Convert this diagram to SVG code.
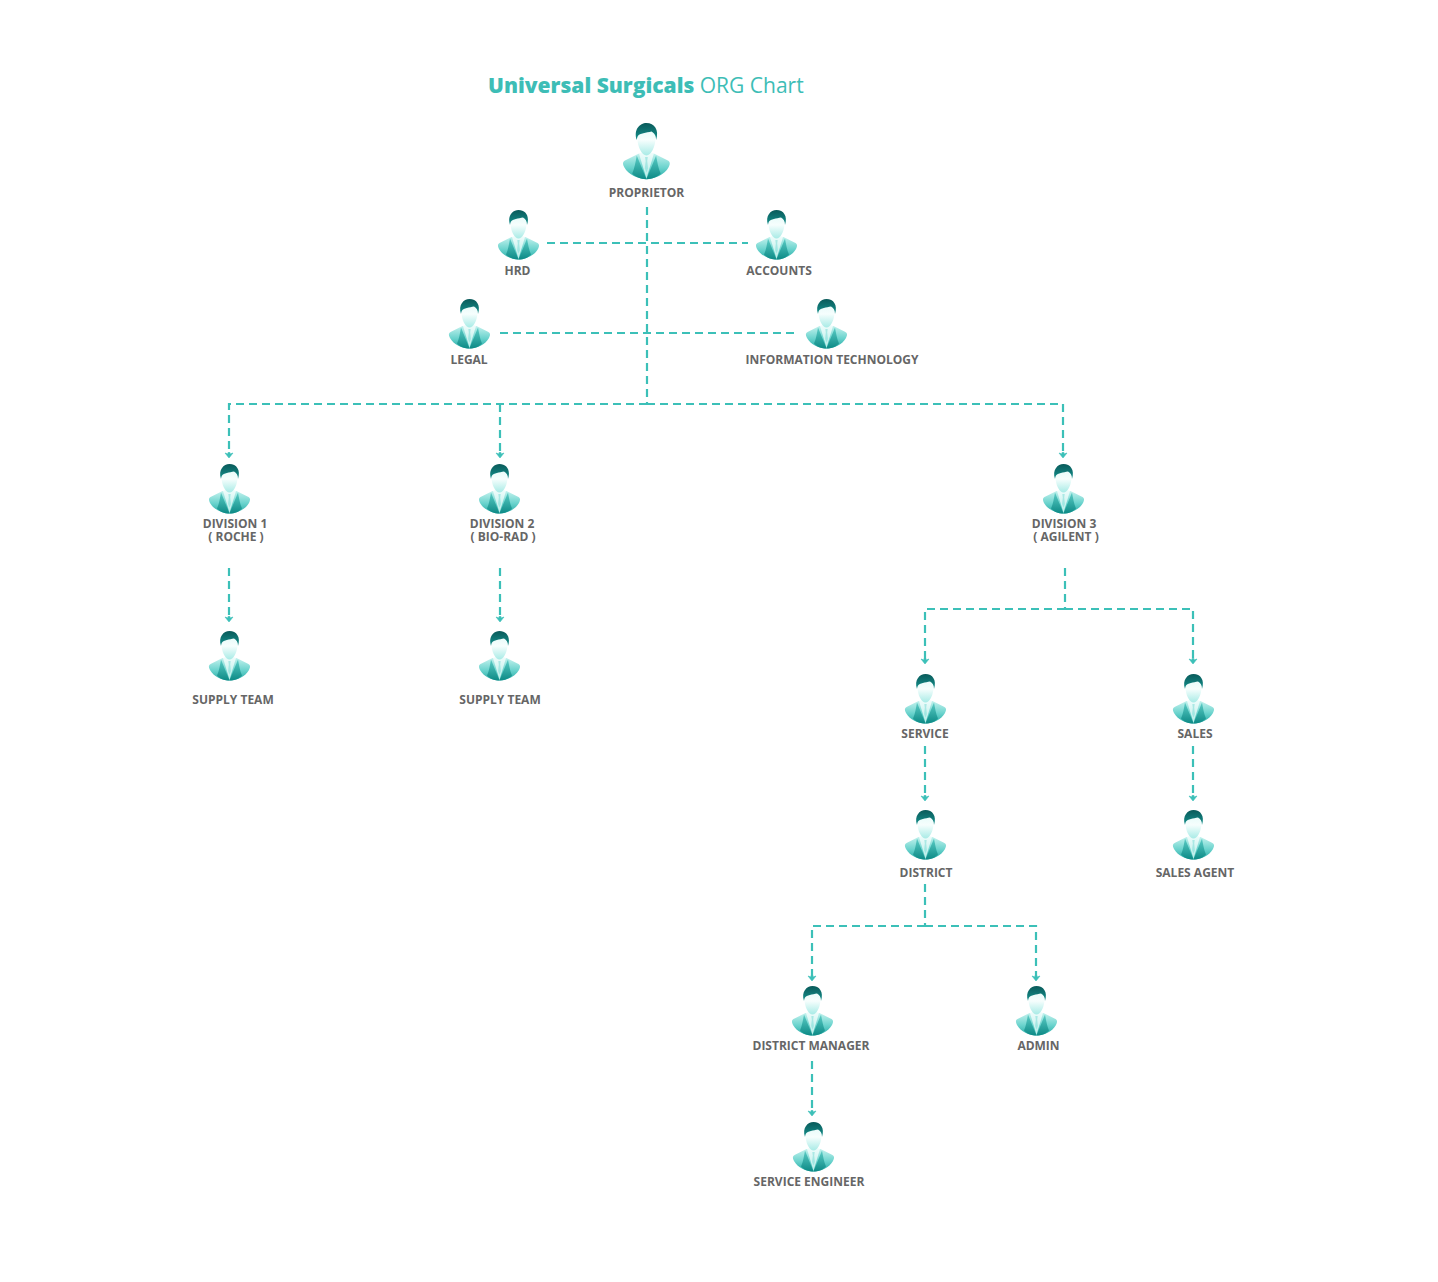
<svg xmlns="http://www.w3.org/2000/svg" width="1438" height="1282" viewBox="0 0 1438 1282">
<style>
.t{font-family:"Open Sans","Liberation Sans",sans-serif;font-weight:700;font-size:12px;fill:#666;text-anchor:middle}
.c{fill:none;stroke:#3cc0b8;stroke-width:2.200;stroke-dasharray:8 5}
.h{fill:#3cc0b8;stroke:#3cc0b8;stroke-width:.6}
.ti{font-family:"Open Sans","Liberation Sans",sans-serif;font-size:21px;fill:#3dbdb6}
</style>
<defs>
<linearGradient id="body" x1="0" y1="0" x2="0" y2="1"><stop offset="0" stop-color="#c4f2ee"/><stop offset=".55" stop-color="#6ad3cd"/><stop offset="1" stop-color="#27aaa5"/></linearGradient>
<linearGradient id="inner" x1="0" y1="0" x2="0" y2="1"><stop offset="0" stop-color="#5ccdc6"/><stop offset="1" stop-color="#0d8a86"/></linearGradient>
<linearGradient id="face" x1="0" y1="0" x2="0" y2="1"><stop offset="0" stop-color="#e4faf8"/><stop offset=".45" stop-color="#f6fefd"/><stop offset="1" stop-color="#a8ebe6"/></linearGradient>
<linearGradient id="shirt" x1="0" y1="0" x2="0" y2="1"><stop offset="0" stop-color="#f2fdfc"/><stop offset="1" stop-color="#b4ece7"/></linearGradient>
<linearGradient id="hair" x1="0" y1="0" x2="0" y2="1"><stop offset="0" stop-color="#0a5a5a"/><stop offset="1" stop-color="#14918d"/></linearGradient>
<symbol id="p" viewBox="0.500 0 42 51" overflow="visible">
<path fill="url(#body)" d="M21 49.500C14 49.500 5 45.500 1.500 39C-0.500 35 0.500 33.500 3 32.500L14 27L28 27L39 32.500C41.500 33.500 42.500 35 40.500 39C37 45.500 28 49.500 21 49.500Z"/>
<path fill="url(#inner)" d="M12.500 28.500L21 49.500C16 49.500 11 47.500 8.500 44.500C10.500 40 11.500 34 12.500 28.500Z"/>
<path fill="url(#inner)" d="M29.500 28.500L21 49.500C26 49.500 31 47.500 33.500 44.500C31.500 40 30.500 34 29.500 28.500Z"/>
<path fill="url(#shirt)" d="M14.500 27L21 49L27.500 27L24 25.500H18Z"/>
<path fill="#86ded8" d="M19.800 30H22.200L21.700 33.500L22.400 40L21 43.500L19.600 40L20.300 33.500Z" opacity=".6"/>
<path fill="url(#face)" d="M13 13C13 7 16 4 21 4C26 4 29 7 29 13C29 21 25 28.500 21 28.500C17 28.500 13 21 13 13Z"/>
<path fill="url(#hair)" d="M12.500 15C9.500 6 15 0 21 0C28 0 32.500 6 29.500 15C29.500 11 28 9 25.500 7.500C21 8.500 15 9 13.500 11.500C13 12.500 12.700 13.500 12.500 15Z"/>
</symbol>
<g id="ah"><path class="h" d="M-4 -2.500L-1 -1.500V-3H1V-1.500L4 -2.500L0 2.500Z"/></g>
</defs>
<text class="ti" x="488" y="93"><tspan font-weight="800">Universal Surgicals</tspan> ORG Chart</text>
<g id="connectors">
<path class="c" d="M647 207V404"/>
<path class="c" d="M547 243H748"/>
<path class="c" d="M500 333H796"/>
<path class="c" d="M647 404H229V455"/>
<path class="c" d="M500 404V455"/>
<path class="c" d="M647 404H1063V455"/>
<path class="c" d="M229 568V619"/>
<path class="c" d="M500 568V619"/>
<path class="c" d="M1065 568V609"/>
<path class="c" d="M1065 609H925V661"/>
<path class="c" d="M1065 609H1193V661"/>
<path class="c" d="M925 746V798"/>
<path class="c" d="M1193 746V798"/>
<path class="c" d="M925 884V926"/>
<path class="c" d="M925 926H812V978"/>
<path class="c" d="M925 926H1036V978"/>
<path class="c" d="M812 1061V1113"/>
<use href="#ah" x="229" y="455.500"/>
<use href="#ah" x="500" y="455.500"/>
<use href="#ah" x="1063" y="455.500"/>
<use href="#ah" x="229" y="619.500"/>
<use href="#ah" x="500" y="619.500"/>
<use href="#ah" x="925" y="661.500"/>
<use href="#ah" x="1193" y="661.500"/>
<use href="#ah" x="925" y="798.500"/>
<use href="#ah" x="1193" y="798.500"/>
<use href="#ah" x="812" y="978.500"/>
<use href="#ah" x="1036" y="978.500"/>
<use href="#ah" x="812" y="1113.500"/>
</g>
<g id="proprietor"><use href="#p" x="623" y="123" width="48" height="58"/><text class="t" x="646.500" y="197">PROPRIETOR</text></g>
<g id="hrd"><use href="#p" x="498" y="210" width="42" height="51"/><text class="t" x="517.500" y="275">HRD</text></g>
<g id="accounts"><use href="#p" x="756" y="210" width="42" height="51"/><text class="t" x="779" y="275">ACCOUNTS</text></g>
<g id="legal"><use href="#p" x="449" y="299" width="42" height="51"/><text class="t" x="469" y="364">LEGAL</text></g>
<g id="it"><use href="#p" x="806" y="299" width="42" height="51"/><text class="t" x="832" y="364">INFORMATION TECHNOLOGY</text></g>
<g id="div1"><use href="#p" x="209" y="464" width="42" height="51"/><text class="t" y="528"><tspan x="235">DIVISION 1</tspan><tspan x="236" y="541">( ROCHE )</tspan></text></g>
<g id="div2"><use href="#p" x="479" y="464" width="42" height="51"/><text class="t" y="528"><tspan x="502">DIVISION 2</tspan><tspan x="503" y="541">( BIO-RAD )</tspan></text></g>
<g id="div3"><use href="#p" x="1043" y="464" width="42" height="51"/><text class="t" y="528"><tspan x="1064">DIVISION 3</tspan><tspan x="1066" y="541">( AGILENT )</tspan></text></g>
<g id="supply1"><use href="#p" x="209" y="631" width="42" height="51"/><text class="t" x="233" y="704">SUPPLY TEAM</text></g>
<g id="supply2"><use href="#p" x="479" y="631" width="42" height="51"/><text class="t" x="500" y="704">SUPPLY TEAM</text></g>
<g id="service"><use href="#p" x="905" y="674" width="42" height="51"/><text class="t" x="925" y="738">SERVICE</text></g>
<g id="sales"><use href="#p" x="1173" y="674" width="42" height="51"/><text class="t" x="1195" y="738">SALES</text></g>
<g id="district"><use href="#p" x="905" y="810" width="42" height="51"/><text class="t" x="926" y="877">DISTRICT</text></g>
<g id="salesagent"><use href="#p" x="1173" y="810" width="42" height="51"/><text class="t" x="1195" y="877">SALES AGENT</text></g>
<g id="dm"><use href="#p" x="792" y="986" width="42" height="51"/><text class="t" x="811" y="1050">DISTRICT MANAGER</text></g>
<g id="admin"><use href="#p" x="1016" y="986" width="42" height="51"/><text class="t" x="1038.500" y="1050">ADMIN</text></g>
<g id="se"><use href="#p" x="793" y="1122" width="42" height="51"/><text class="t" x="809" y="1186">SERVICE ENGINEER</text></g>
</svg>
